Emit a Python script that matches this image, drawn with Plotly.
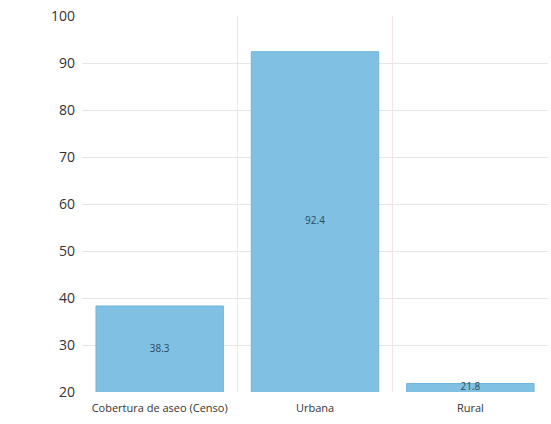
import plotly.graph_objects as go

categories = ["Cobertura de aseo (Censo)", "Urbana", "Rural"]
values = [38.3, 92.4, 21.8]
y_ticks = [20, 30, 40, 50, 60, 70, 80, 90, 100]
y_min, y_max = 20, 100

fig = go.Figure()
fig.add_trace(go.Bar(
    x=categories,
    y=values,
    marker=dict(color="#80c0e2", line=dict(color="#6cb4dc", width=1)),
    width=0.82,
    hoverinfo="x+y",
))
# value labels centred on the visible part of each bar
fig.add_trace(go.Scatter(
    x=categories,
    y=[(y_min + v) / 2 for v in values],
    mode="text",
    text=[f"{v:.1f}" for v in values],
    textposition="middle center",
    textfont=dict(family="Open Sans", size=10, color="#2a4a60"),
    hoverinfo="skip",
    cliponaxis=True,
))

fig.update_layout(
    width=551, height=424,
    margin=dict(l=82, r=3, t=16, b=32, autoexpand=False),
    paper_bgcolor="white", plot_bgcolor="white",
    showlegend=False,
    font=dict(family="Open Sans", color="#333333"),
)
fig.update_xaxes(
    type="category",
    tickson="boundaries",
    showgrid=True, gridcolor="#f2e6e6", gridwidth=1,
    ticks="", showline=False,
    tickfont=dict(size=11, color="#333333"),
    ticklabelstandoff=8,
    ticklabeloverflow="allow",
    automargin=False,
)
fig.update_yaxes(
    range=[y_min, y_max],
    tickvals=y_ticks,
    showgrid=True, gridcolor="#e6e6e6", gridwidth=1,
    zeroline=False, showline=False,
    tickfont=dict(size=14, color="#333333"),
    ticklabelstandoff=6,
    ticklabeloverflow="allow",
    automargin=False,
)

fig.write_html(
    "out.html",
    config={"displayModeBar": False},
    post_script="document.body.style.margin='0';document.body.style.overflow='hidden';",
)
